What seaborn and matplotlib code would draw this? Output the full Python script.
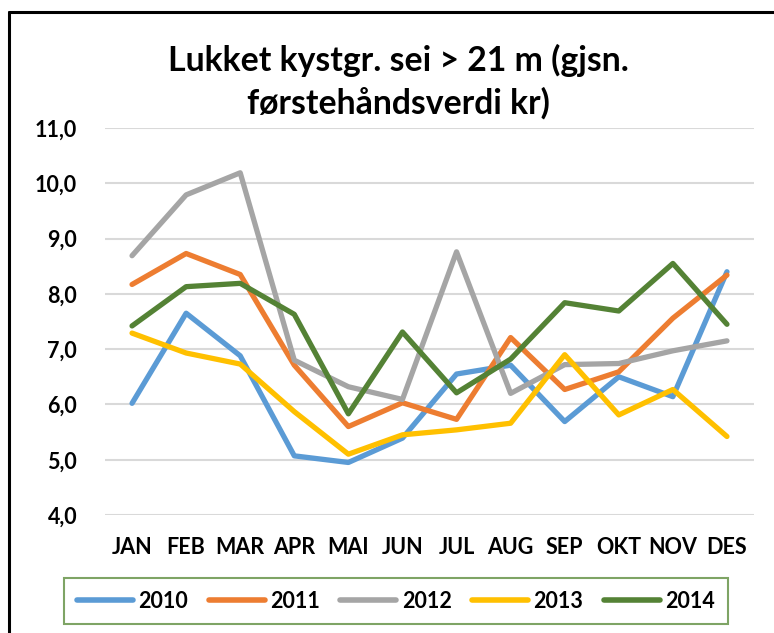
import matplotlib
matplotlib.use("Agg")
import matplotlib.pyplot as plt
import pandas as pd
import seaborn as sns
from matplotlib.lines import Line2D
from matplotlib.ticker import FuncFormatter

# Data
months = ["JAN", "FEB", "MAR", "APR", "MAI", "JUN", "JUL", "AUG", "SEP", "OKT", "NOV", "DES"]
years = ["2010", "2011", "2012", "2013", "2014"]

v2010 = [6.02, 7.65, 6.88, 5.07, 4.95, 5.39, 6.55, 6.71, 5.69, 6.50, 6.14, 8.40]
v2011 = [8.17, 8.73, 8.35, 6.71, 5.60, 6.03, 5.73, 7.21, 6.27, 6.59, 7.56, 8.34]
v2012 = [8.69, 9.79, 10.19, 6.80, 6.32, 6.09, 8.76, 6.20, 6.72, 6.74, 6.97, 7.15]
v2013 = [7.29, 6.93, 6.73, 5.87, 5.10, 5.45, 5.54, 5.66, 6.90, 5.81, 6.27, 5.42]
v2014 = [7.42, 8.13, 8.19, 7.63, 5.83, 7.31, 6.21, 6.82, 7.84, 7.69, 8.55, 7.45]

colors = ["#5B9BD5", "#ED7D31", "#A5A5A5", "#FFC000", "#548235"]

rows = []
for year, vals in zip(years, [v2010, v2011, v2012, v2013, v2014]):
    for m, v in zip(months, vals):
        rows.append({"month": m, "year": year, "value": v})
df = pd.DataFrame(rows)

sns.set_style("white")
plt.rcParams["font.family"] = ["Lato", "DejaVu Sans"]
plt.rcParams["font.weight"] = "bold"
plt.rcParams["text.color"] = "black"
plt.rcParams["xtick.color"] = "black"
plt.rcParams["ytick.color"] = "black"

fig = plt.figure(figsize=(7.74, 6.33), dpi=100)
ax = fig.add_axes([105 / 774, 1 - 515 / 633, (754 - 105) / 774, (515 - 128) / 633])

sns.lineplot(data=df, x="month", y="value", hue="year", palette=colors,
             linewidth=3.8, ax=ax, legend=False, sort=False)

ax.set_xlim(-0.5, 11.5)
ax.set_ylim(4, 11)
ax.set_yticks(range(4, 12))
ax.yaxis.set_major_formatter(FuncFormatter(lambda v, p: f"{v:.1f}".replace(".", ",")))
ax.grid(axis="y", color="#D9D9D9", linewidth=1.5)
ax.set_axisbelow(True)
for s in ax.spines.values():
    s.set_visible(False)
ax.tick_params(axis="y", length=0, pad=20, labelsize=15.5)
ax.tick_params(axis="x", length=0, pad=16, labelsize=15.5)
for lab in ax.get_xticklabels() + ax.get_yticklabels():
    lab.set_fontweight("bold")
ax.set_xlabel("")
ax.set_ylabel("")

fig.text(398 / 774, 1 - 60 / 633, "Lukket kystgr. sei > 21 m (gjsn.", ha="center", va="center",
         fontsize=24.3, fontweight="bold")
fig.text(398 / 774, 1 - 103 / 633, "førstehåndsverdi kr)", ha="center", va="center",
         fontsize=24.3, fontweight="bold")

# legend
handles = [Line2D([0], [0], color=c, linewidth=4) for c in colors]
leg = fig.legend(handles, years, loc="center", ncol=5,
                 bbox_to_anchor=(396 / 774, 1 - 601 / 633),
                 frameon=True, fancybox=False, fontsize=15.5,
                 handlelength=2.6, handletextpad=0.25, columnspacing=0.95, borderpad=0.6)
leg.get_frame().set_edgecolor("#5E8E3E")
leg.get_frame().set_linewidth(1.5)
for t in leg.get_texts():
    t.set_fontweight("bold")

# outer frame edges (left and top)
fig.add_artist(Line2D([9 / 774, 9 / 774], [0, 1 - 12 / 633], color="black", linewidth=2.2,
                      transform=fig.transFigure))
fig.add_artist(Line2D([9 / 774, 1], [1 - 12 / 633, 1 - 12 / 633], color="black", linewidth=2.2,
                      transform=fig.transFigure))

fig.savefig("out.png", dpi=100)
